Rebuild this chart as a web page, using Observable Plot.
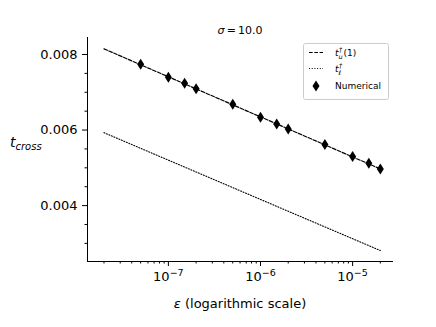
<!DOCTYPE html>
<html><head><meta charset="utf-8">
<script src="https://cdn.jsdelivr.net/npm/d3@7"></script>
<script src="https://cdn.jsdelivr.net/npm/@observablehq/plot@0.6"></script>
<style>
body{margin:0;background:#fff;}
#chart{position:relative;width:436px;height:327px;}
svg{font-family:"DejaVu Sans",sans-serif;}
</style>
</head><body><div id="chart"></div>
<script>
// Data
const epsNumerical = [5e-8, 1e-7, 1.5e-7, 2e-7, 5e-7, 1e-6, 1.5e-6, 2e-6, 5e-6, 1e-5, 1.5e-5, 2e-5];
const tNumerical   = [0.00774, 0.00740, 0.00724, 0.00709, 0.00668, 0.00634, 0.00616, 0.00603, 0.00562, 0.00530, 0.00512, 0.00497];
const epsLine = [2e-8, 2e-5];
const tUpper  = [0.00815, 0.00497];
const tLower  = [0.00593, 0.00281];
const xMajor = [1e-7, 1e-6, 1e-5];
const xMajorBase = ["10", "10", "10"];
const xMajorExp = ["\u22127", "\u22126", "\u22125"];
const xMinor = [2e-8,3e-8,4e-8,5e-8,6e-8,7e-8,8e-8,9e-8,2e-7,3e-7,4e-7,5e-7,6e-7,7e-7,8e-7,9e-7,2e-6,3e-6,4e-6,5e-6,6e-6,7e-6,8e-6,9e-6,2e-5];
const yMajor = [0.004, 0.006, 0.008];
const yMajorLabels = ["0.004", "0.006", "0.008"];
const yMinor = [0.003, 0.0035, 0.0045, 0.005, 0.0055, 0.0065, 0.007, 0.0075];
const xDomain = [Math.pow(10, -7.878), Math.pow(10, -4.556)];
const yDomain = [0.00252, 0.00845];

const lineData = epsLine.map((e, i) => ({eps: e, upper: tUpper[i], lower: tLower[i]}));
const numData = epsNumerical.map((e, i) => ({eps: e, t: tNumerical[i]}));

const thinDiamond = {
  draw(ctx, size) {
    const r = Math.sqrt(size / Math.PI);
    ctx.moveTo(0, -r * 1.1);
    ctx.lineTo(r * 0.7, 0);
    ctx.lineTo(0, r * 1.1);
    ctx.lineTo(-r * 0.7, 0);
    ctx.closePath();
  }
};

const plot = Plot.plot({
  width: 436, height: 327,
  marginLeft: 87, marginRight: 43, marginTop: 37, marginBottom: 66,
  style: {fontFamily: "DejaVu Sans, sans-serif", background: "#fff", color: "#000"},
  x: {type: "log", domain: xDomain, label: null},
  y: {domain: yDomain, label: null},
  marks: [
    Plot.axisX({ticks: xMinor, tickSize: 2.5, tickFormat: () => "", stroke: "#000", label: null}),
    Plot.axisX({ticks: xMajor, tickSize: 5, tickPadding: 5, tickFormat: d => xMajorBase[xMajor.indexOf(d)] + "|" + xMajorExp[xMajor.indexOf(d)], fontSize: 13, stroke: "#000", fill: "#000", label: null}),
    Plot.axisY({ticks: yMinor, tickSize: 2.5, tickFormat: () => "", stroke: "#000", label: null}),
    Plot.axisY({ticks: yMajor, tickSize: 5, tickPadding: 5, tickFormat: d => yMajorLabels[yMajor.indexOf(d)], fontSize: 13, stroke: "#000", fill: "#000", label: null}),
    Plot.ruleX([xDomain[0]], {stroke: "#000", strokeWidth: 1}),
    Plot.ruleY([yDomain[0]], {stroke: "#000", strokeWidth: 1}),
    Plot.line(lineData, {x: "eps", y: "upper", stroke: "#000", strokeWidth: 1.2, strokeDasharray: "3.7,1.6"}),
    Plot.line(lineData, {x: "eps", y: "lower", stroke: "#000", strokeWidth: 1.1, strokeDasharray: "1,1.7"}),
    Plot.dot(numData, {x: "eps", y: "t", symbol: thinDiamond, r: 5, fill: "#000", stroke: "none"})
  ]
});

const svg = d3.select(plot);
// Superscript exponents on x tick labels
svg.selectAll("text").each(function() {
  const el = d3.select(this);
  const s = el.text();
  if (s.includes("|")) {
    const [b, e] = s.split("|");
    el.text(null);
    el.append("tspan").text(b);
    el.append("tspan").attr("font-size", 9.5).attr("dy", "-0.55em").text(e);
  }
});
// Title
const title = svg.append("text").attr("x", 240).attr("y", 34).attr("text-anchor", "middle").attr("font-size", 11).attr("fill", "#000");
title.append("tspan").attr("font-style", "italic").text("σ");
title.append("tspan").text("\u2009=\u200910.0");
// Y label
const yl = svg.append("text").attr("x", 10).attr("y", 147).attr("text-anchor", "start").attr("font-size", 14).attr("fill", "#000").attr("font-style", "italic");
yl.append("tspan").text("t");
yl.append("tspan").attr("font-size", 10).attr("dy", 3).text("cross");
// X label
const xl = svg.append("text").attr("x", 240).attr("y", 308).attr("text-anchor", "middle").attr("font-size", 13).attr("fill", "#000");
xl.append("tspan").attr("font-style", "italic").text("ε");
xl.append("tspan").text(" (logarithmic scale)");
// Legend
const lg = svg.append("g").attr("font-size", 9).attr("fill", "#000").attr("text-anchor", "start");
lg.append("rect").attr("x", 303.5).attr("y", 43.5).attr("width", 85).attr("height", 56).attr("rx", 2)
  .attr("fill", "#fff").attr("fill-opacity", 0.8).attr("stroke", "#ccc").attr("stroke-width", 1);
lg.append("line").attr("x1", 309).attr("x2", 323).attr("y1", 52.5).attr("y2", 52.5).attr("stroke", "#000").attr("stroke-width", 1.2).attr("stroke-dasharray", "3.7,1.6");
lg.append("line").attr("x1", 309).attr("x2", 323).attr("y1", 68.5).attr("y2", 68.5).attr("stroke", "#000").attr("stroke-width", 1.1).attr("stroke-dasharray", "1,1.7");
lg.append("path").attr("d", "M316,80.5L319.5,86L316,91.5L312.5,86Z").attr("fill", "#000");
const t1 = lg.append("text").attr("x", 335).attr("y", 55.5).attr("font-style", "italic");
t1.append("tspan").text("t");
t1.append("tspan").attr("font-size", 6.5).attr("dy", -4).attr("dx", 0.5).text("†");
t1.append("tspan").attr("font-size", 6.5).attr("dy", 7).attr("dx", -3.8).text("u");
t1.append("tspan").attr("font-style", "normal").attr("dy", -3).attr("dx", 1).text("(1)");
const t2 = lg.append("text").attr("x", 335).attr("y", 71.5).attr("font-style", "italic");
t2.append("tspan").text("t");
t2.append("tspan").attr("font-size", 6.5).attr("dy", -4).attr("dx", 0.5).text("†");
t2.append("tspan").attr("font-size", 6.5).attr("dy", 7).attr("dx", -3.8).text("ℓ");
lg.append("text").attr("x", 335).attr("y", 89).text("Numerical");

document.getElementById("chart").appendChild(plot);
</script>
</body></html>
